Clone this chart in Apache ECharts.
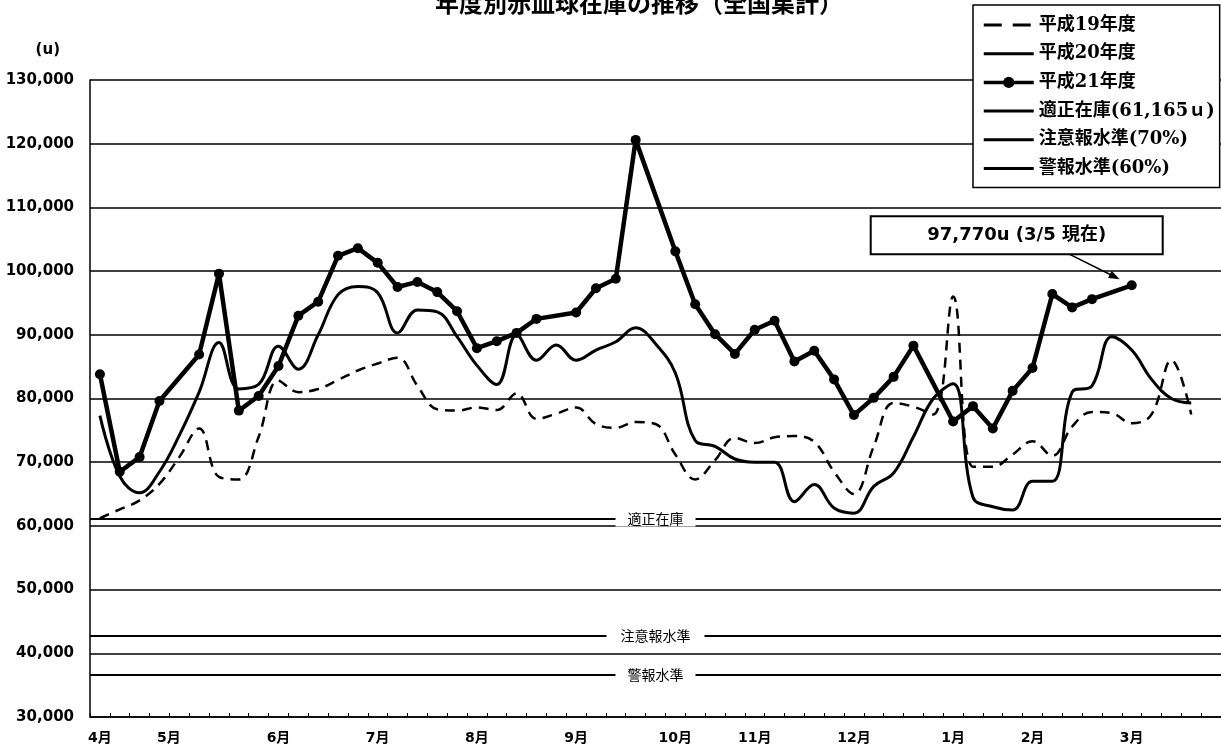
<!DOCTYPE html>
<html><head><meta charset="utf-8">
<script src="https://cdn.jsdelivr.net/npm/echarts@6/dist/echarts.min.js"></script>
<style>html,body{margin:0;padding:0;background:#fff}#c{width:1221px;height:751px}</style>
</head><body><div id="c"></div>
<script>
// ---- data ----
const weekCount = 57;
const categories = Array.from({length: weekCount}, (_, i) => 'W' + (i + 1));
const monthTickIndex = [0, 3, 9, 14, 19, 24, 29, 33, 38, 43, 47, 52];
const monthLabels = ['4月','5月','6月','7月','8月','9月','10月','11月','12月','1月','2月','3月'];

const h19 = [61200,62600,64000,66600,70800,75300,67700,67300,74000,82800,
             81000,81500,82900,84400,85500,86400,82000,78300,78100,78600,
             78200,80800,76800,77600,78600,76000,75400,76300,76000,71200,
             67300,70300,73800,73000,73900,74100,73200,68500,65000,72500,
             79300,78700,77500,96000,69300,69300,71200,73300,71000,75600,
             77900,77700,76100,77500,86000,77500];
const h20 = [77300,67800,65200,68500,74200,81000,88800,81500,82200,88200,
             84600,90000,96300,97600,96600,90300,93900,93600,89700,85200,
             82200,90000,86000,88400,86000,87600,88900,91100,88600,84000,
             73400,72500,70500,70000,70000,63800,66500,62800,62000,66200,
             68300,74000,80000,82300,64500,63000,62500,67000,67000,81000,
             82000,89700,87600,83000,80000,79300];
const h21 = [83800,68500,70800,79600,null,86900,99600,78100,80400,85100,
             93000,95200,102400,103600,101300,97500,98300,96700,93700,87900,
             89000,90300,92500,null,93500,97300,98800,120600,null,103100,
             94800,90100,87000,90800,92200,85800,87500,83000,77400,80100,
             83400,88300,null,76400,78800,75300,81200,84800,96400,94300,
             95600,null,97770];

const properStock = 61165;      // 適正在庫
const cautionLevel = 42815;     // 注意報水準 (70%)
const alarmLevel = 36699;       // 警報水準 (60%)
const yTicks = {min: 30000, max: 130000, interval: 10000};
const calloutText = '97,770u (3/5 現在)';

const seriesNames = ['平成19年度','平成20年度','平成21年度','適正在庫(61,165ｕ)','注意報水準(70%)','警報水準(60%)'];

// ---- chart ----
const chart = echarts.init(document.getElementById('c'));
const legendFont = "'DejaVu Serif','Noto Sans CJK JP',serif";
const sansFont = "'DejaVu Sans','Noto Sans CJK JP',sans-serif";
const cjkFont = "'Noto Sans CJK JP',sans-serif";

function levelLine(name, value, text, padX) {
  return {
    name: name, type: 'line', data: [], symbol: 'none',
    color: '#000', lineStyle: {color: '#000', width: 2},
    markLine: {
      silent: true, symbol: 'none', animation: false,
      lineStyle: {color: '#000', width: 2, type: 'solid'},
      label: {show: true, position: 'middle', distance: -8, formatter: text, color: '#000',
              fontSize: 14, lineHeight: 16, fontFamily: cjkFont, backgroundColor: '#fff', padding: [0, padX]},
      data: [{yAxis: value}]
    }
  };
}

const hideSym = {opacity: 0, color: 'rgba(0,0,0,0)', borderWidth: 0};

chart.setOption({
  animation: false,
  backgroundColor: '#fff',
  title: {
    text: '年度別赤血球在庫の推移（全国集計）', left: 430, top: -14,
    textStyle: {fontSize: 24, fontWeight: 'bold', color: '#000', fontFamily: cjkFont}
  },
  legend: {
    orient: 'vertical', left: 973, top: 5,
    padding: [11, 5, 10, 9], itemWidth: 50, itemHeight: 14, itemGap: 10.7,
    backgroundColor: '#fff', borderColor: '#000', borderWidth: 1.5, borderRadius: 0,
    data: [
      {name: seriesNames[0], itemStyle: hideSym, lineStyle: {type: [18, 11], width: 3}},
      {name: seriesNames[1], itemStyle: hideSym, lineStyle: {width: 3}},
      {name: seriesNames[2], lineStyle: {width: 3.5}},
      {name: seriesNames[3], itemStyle: hideSym, lineStyle: {width: 3}},
      {name: seriesNames[4], itemStyle: hideSym, lineStyle: {width: 3}},
      {name: seriesNames[5], itemStyle: hideSym, lineStyle: {width: 3}}
    ],
    textStyle: {fontSize: 18, fontWeight: 'bold', color: '#000', fontFamily: legendFont, lineHeight: 18},
    z: 10
  },
  grid: {left: 90, top: 80, right: -3, height: 637, containLabel: false},
  xAxis: {
    type: 'category', data: categories, boundaryGap: true,
    axisLine: {lineStyle: {color: '#000', width: 1.5}},
    axisTick: {show: true, inside: true, length: 4, interval: 0, lineStyle: {color: '#000', width: 1}},
    axisLabel: {
      interval: (i) => monthTickIndex.includes(i),
      formatter: (v, i) => {
        const k = monthTickIndex.indexOf(i);
        if (k < 0) return '';
        return k === 1 ? '{s|' + monthLabels[k] + '}' : monthLabels[k];
      },
      rich: {s: {padding: [0, 0, 0, 19], fontSize: 14, fontWeight: 'bold', color: '#000', fontFamily: sansFont}},
      margin: 14, fontSize: 14, fontWeight: 'bold', color: '#000', fontFamily: sansFont
    },
    splitLine: {show: false}
  },
  yAxis: {
    type: 'value', min: yTicks.min, max: yTicks.max, interval: yTicks.interval,
    name: '(u)', nameLocation: 'end', nameGap: 22,
    nameTextStyle: {fontSize: 15, fontWeight: 'bold', color: '#000', fontFamily: sansFont, align: 'right', padding: [0, 30, 0, 0]},
    axisLine: {show: true, lineStyle: {color: '#000', width: 1.5}},
    axisTick: {show: false},
    axisLabel: {
      formatter: (v) => v.toLocaleString('en-US'),
      fontSize: 15, fontWeight: 'bold', color: '#000', fontFamily: sansFont, margin: 16
    },
    splitLine: {show: true, lineStyle: {color: '#000', width: 1.5}}
  },
  series: [
    {name: seriesNames[0], type: 'line', data: h19, smooth: 0.4, symbol: 'none', color: '#000',
     lineStyle: {color: '#000', width: 2.5, type: [10, 7]}, z: 3},
    {name: seriesNames[1], type: 'line', data: h20, smooth: 0.4, symbol: 'none', color: '#000',
     lineStyle: {color: '#000', width: 3}, z: 4},
    {name: seriesNames[2], type: 'line', data: h21, connectNulls: true, symbol: 'circle', symbolSize: 10,
     showAllSymbol: true, color: '#000', itemStyle: {color: '#000'},
     lineStyle: {color: '#000', width: 4.5}, z: 6},
    levelLine(seriesNames[3], properStock, '適正在庫', 12),
    levelLine(seriesNames[4], cautionLevel, '注意報水準', 14),
    levelLine(seriesNames[5], alarmLevel, '警報水準', 12)
  ]
});

// callout pointing at the latest point of 平成21年度
const lastIdx = h21.length - 1;
const pt = chart.convertToPixel({seriesIndex: 2}, [lastIdx, h21[lastIdx]]);
const boxW = 292, boxH = 38;
const boxCx = pt[0] - 115, boxCy = pt[1] - 50;
const ax0 = [pt[0] - 62, boxCy + boxH / 2], ax1 = [pt[0] - 12, pt[1] - 6];
const ang = Math.atan2(ax1[1] - ax0[1], ax1[0] - ax0[0]);
const hl = 11, hw = 4;
const head = [
  ax1,
  [ax1[0] - hl * Math.cos(ang) + hw * Math.sin(ang), ax1[1] - hl * Math.sin(ang) - hw * Math.cos(ang)],
  [ax1[0] - hl * Math.cos(ang) - hw * Math.sin(ang), ax1[1] - hl * Math.sin(ang) + hw * Math.cos(ang)]
];
chart.setOption({
  graphic: [
    {type: 'rect', z: 20, shape: {x: boxCx - boxW / 2, y: boxCy - boxH / 2, width: boxW, height: boxH},
     style: {fill: '#fff', stroke: '#000', lineWidth: 2}},
    {type: 'text', z: 21, x: boxCx, y: boxCy,
     style: {text: calloutText, fill: '#000', font: "bold 18px 'DejaVu Sans','Noto Sans CJK JP',sans-serif",
             textAlign: 'center', textVerticalAlign: 'middle'}},
    {type: 'line', z: 20, shape: {x1: ax0[0], y1: ax0[1], x2: ax1[0] - (hl - 2) * Math.cos(ang), y2: ax1[1] - (hl - 2) * Math.sin(ang)},
     style: {stroke: '#000', lineWidth: 1.5}},
    {type: 'polygon', z: 20, shape: {points: head}, style: {fill: '#000'}}
  ]
});
</script>
</body></html>
